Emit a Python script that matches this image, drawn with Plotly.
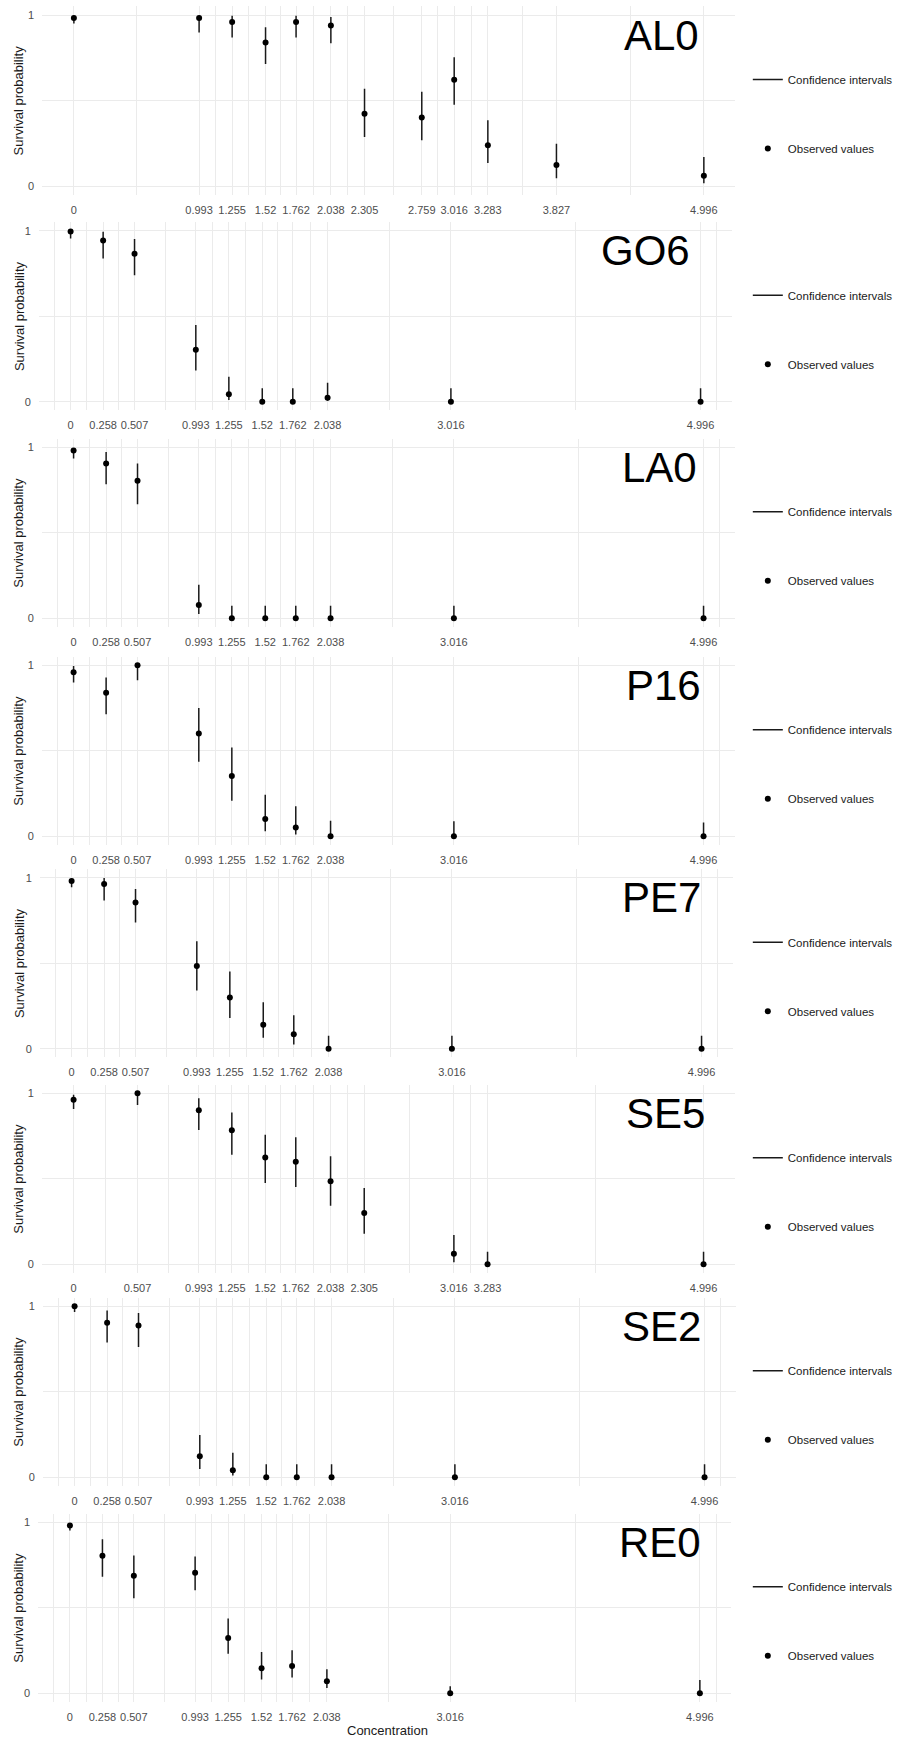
import plotly.graph_objects as go

# ── data ─────────────────────────────────────────────────────────────

STRAINS = ["AL0", "GO6", "LA0", "P16", "PE7", "SE5", "SE2", "RE0"]

CONC_AL0 = [0, 0.993, 1.255, 1.52, 1.762, 2.038, 2.305, 2.759, 3.016, 3.283, 3.827, 4.996]
CONC_SE5 = [0, 0.507, 0.993, 1.255, 1.52, 1.762, 2.038, 2.305, 3.016, 3.283, 4.996]
CONC_STD = [0, 0.258, 0.507, 0.993, 1.255, 1.52, 1.762, 2.038, 3.016, 4.996]

SURV_AL0 = [0.982, 0.982, 0.959, 0.839, 0.959, 0.938, 0.422, 0.401, 0.621, 0.239, 0.123, 0.060]
LOW_AL0 = [0.951, 0.897, 0.868, 0.714, 0.868, 0.835, 0.286, 0.268, 0.475, 0.134, 0.045, 0.016]
UP_AL0 = [0.996, 0.996, 0.996, 0.928, 0.996, 0.988, 0.568, 0.551, 0.753, 0.385, 0.247, 0.169]

SURV_GO6 = [0.996, 0.943, 0.865, 0.304, 0.043, 0, 0, 0.023, 0, 0]
LOW_GO6 = [0.955, 0.838, 0.739, 0.183, 0.010, 0, 0, 0.006, 0, 0]
UP_GO6 = [1.0, 0.994, 0.951, 0.448, 0.146, 0.078, 0.078, 0.111, 0.078, 0.078]

SURV_LA0 = [0.982, 0.905, 0.804, 0.078, 0, 0, 0, 0, 0, 0]
LOW_LA0 = [0.934, 0.784, 0.667, 0.025, 0, 0, 0, 0, 0, 0]
UP_LA0 = [0.996, 0.973, 0.905, 0.196, 0.074, 0.074, 0.074, 0.074, 0.074, 0.074]

SURV_P16 = [0.959, 0.840, 1.0, 0.601, 0.352, 0.101, 0.051, 0, 0, 0]
LOW_P16 = [0.899, 0.714, 0.912, 0.436, 0.208, 0.029, 0.010, 0, 0, 0]
UP_P16 = [0.996, 0.928, 1.0, 0.751, 0.519, 0.243, 0.175, 0.091, 0.088, 0.080]

SURV_PE7 = [0.981, 0.963, 0.855, 0.483, 0.300, 0.140, 0.085, 0, 0, 0]
LOW_PE7 = [0.944, 0.866, 0.738, 0.341, 0.180, 0.064, 0.025, 0, 0, 0]
UP_PE7 = [0.996, 0.998, 0.934, 0.628, 0.452, 0.271, 0.196, 0.076, 0.076, 0.076]

SURV_SE5 = [0.963, 1.0, 0.901, 0.784, 0.624, 0.600, 0.485, 0.300, 0.062, 0, 0]
LOW_SE5 = [0.908, 0.932, 0.786, 0.641, 0.476, 0.452, 0.343, 0.179, 0.012, 0, 0]
UP_SE5 = [0.992, 1.0, 0.971, 0.887, 0.758, 0.743, 0.632, 0.446, 0.172, 0.074, 0.074]

SURV_SE2 = [1.0, 0.904, 0.887, 0.123, 0.041, 0, 0, 0, 0, 0]
LOW_SE2 = [0.967, 0.789, 0.762, 0.049, 0.010, 0, 0, 0, 0, 0]
UP_SE2 = [1.0, 0.975, 0.961, 0.248, 0.143, 0.076, 0.076, 0.076, 0.076, 0.076]

SURV_RE0 = [0.981, 0.804, 0.688, 0.705, 0.324, 0.147, 0.159, 0.070, 0, 0]
LOW_RE0 = [0.952, 0.682, 0.556, 0.603, 0.231, 0.081, 0.093, 0.031, 0, 0]
UP_RE0 = [0.994, 0.901, 0.806, 0.800, 0.438, 0.242, 0.252, 0.141, 0.041, 0.078]

PANELS = [
    ("AL0", CONC_AL0, SURV_AL0, LOW_AL0, UP_AL0),
    ("GO6", CONC_STD, SURV_GO6, LOW_GO6, UP_GO6),
    ("LA0", CONC_STD, SURV_LA0, LOW_LA0, UP_LA0),
    ("P16", CONC_STD, SURV_P16, LOW_P16, UP_P16),
    ("PE7", CONC_STD, SURV_PE7, LOW_PE7, UP_PE7),
    ("SE5", CONC_SE5, SURV_SE5, LOW_SE5, UP_SE5),
    ("SE2", CONC_STD, SURV_SE2, LOW_SE2, UP_SE2),
    ("RE0", CONC_STD, SURV_RE0, LOW_RE0, UP_RE0),
]

# ── layout ───────────────────────────────────────────────────────────

W, H = 898, 1740
FONT = "Arial, Liberation Sans, sans-serif"
GRID = "#EBEBEB"
TICK_COLOR = "#4D4D4D"

# pixel anchors of each stacked panel: x of concentration 0, y of survival 1
ZERO_X = [74.3, 71, 74, 74, 72, 74, 75, 70.3]
ONE_Y = [15, 230.7, 447.3, 665.3, 877.7, 1093.3, 1306.3, 1522.3]
TITLE_RIGHT = [705, 696, 703, 707, 707, 710.7, 707, 706.7]
PX_PER_X = 126.8
PX_PER_Y = 171.0
X_RANGE = [-0.2498, 5.2458]
Y_RANGE = [-0.05, 1.05]


def minor_breaks(b, lo, hi):
    """ggplot-style minor breaks: midpoints between majors."""
    bd = b[1] - b[0]
    ext = list(b)
    if lo < b[0]:
        ext = [b[0] - bd] + ext
    if hi > b[-1]:
        ext = ext + [b[-1] + bd]
    mids = [(a + c) / 2 for a, c in zip(ext[:-1], ext[1:])]
    return [m for m in mids if lo <= m <= hi]


fig = go.Figure()
annotations = []

for i, (name, conc, surv, low, up) in enumerate(PANELS):
    n = "" if i == 0 else str(i + 1)
    xref, yref = f"x{n}", f"y{n}"
    leg = f"legend{n}"

    ci_x, ci_y = [], []
    for c, lo, hi in zip(conc, low, up):
        ci_x += [c, c, None]
        ci_y += [lo, hi, None]

    fig.add_trace(
        go.Scatter(
            x=ci_x, y=ci_y, mode="lines",
            line={"color": "#1a1a1a", "width": 1.5},
            name="Confidence intervals", legendgroup=f"ci{i}", legend=leg,
            xaxis=xref, yaxis=yref, hoverinfo="skip",
        )
    )
    fig.add_trace(
        go.Scatter(
            x=conc, y=surv, mode="markers",
            marker={"color": "black", "size": 6},
            name="Observed values", legendgroup=f"obs{i}", legend=leg,
            xaxis=xref, yaxis=yref,
        )
    )

    left = ZERO_X[i] + X_RANGE[0] * PX_PER_X
    right = ZERO_X[i] + X_RANGE[1] * PX_PER_X
    top = ONE_Y[i] - (Y_RANGE[1] - 1) * PX_PER_Y
    bottom = ONE_Y[i] + (1 - Y_RANGE[0]) * PX_PER_Y

    fig.update_layout({
        f"xaxis{n}": dict(
            domain=[left / W, right / W], range=X_RANGE, anchor=yref,
            tickvals=conc, ticktext=[f"{v:g}" for v in conc], tickangle=0,
            ticks="outside", ticklen=5, tickcolor="rgba(0,0,0,0)",
            tickfont={"size": 11, "color": TICK_COLOR, "family": FONT},
            showgrid=True, gridcolor=GRID, gridwidth=1.1,
            minor=dict(tickvals=minor_breaks(conc, *X_RANGE), showgrid=True,
                       gridcolor=GRID, gridwidth=0.8),
            zeroline=False, showline=False,
        ),
        f"yaxis{n}": dict(
            domain=[1 - bottom / H, 1 - top / H], range=Y_RANGE, anchor=xref,
            tickvals=[0, 1], ticktext=["0", "1"],
            ticks="outside", ticklen=5, tickcolor="rgba(0,0,0,0)",
            tickfont={"size": 11, "color": TICK_COLOR, "family": FONT},
            showgrid=True, gridcolor=GRID, gridwidth=1.1,
            minor=dict(tickvals=[0.5], showgrid=True, gridcolor=GRID, gridwidth=0.8),
            zeroline=False, showline=False,
        ),
        leg: dict(
            x=752 / W, y=1 - (ONE_Y[i] + 50) / H, xanchor="left", yanchor="top",
            tracegroupgap=50, bgcolor="rgba(0,0,0,0)",
            font={"size": 11.5, "color": "#1a1a1a", "family": FONT},
        ),
    })

    # strain label inside the panel
    annotations.append(dict(
        text=name, xref=xref, yref=yref,
        x=(TITLE_RIGHT[i] - ZERO_X[i]) / PX_PER_X, y=1 - 20 / PX_PER_Y,
        xanchor="right", yanchor="middle", showarrow=False,
        font={"size": 42, "color": "black", "family": FONT},
    ))
    # y axis title
    annotations.append(dict(
        text="Survival probability", xref="paper", yref="paper",
        x=19 / W, y=1 - (top + bottom) / 2 / H, textangle=-90,
        xanchor="center", yanchor="middle", showarrow=False,
        font={"size": 13, "color": "#1a1a1a", "family": FONT},
    ))

annotations.append(dict(
    text="Concentration", xref="paper", yref="paper",
    x=390 / W, y=1 - 1730 / H, xanchor="center", yanchor="middle", showarrow=False,
    font={"size": 13, "color": "#1a1a1a", "family": FONT},
))

fig.update_layout(
    width=W, height=H,
    margin={"l": 0, "r": 0, "t": 0, "b": 0},
    paper_bgcolor="white", plot_bgcolor="white",
    annotations=annotations,
    showlegend=True,
    font={"family": FONT},
)

# drop the browser's default page margin so the figure fills the window
fig.write_html(
    "out.html",
    config={"displayModeBar": False},
    post_script="document.body.style.margin = '0px';",
)
